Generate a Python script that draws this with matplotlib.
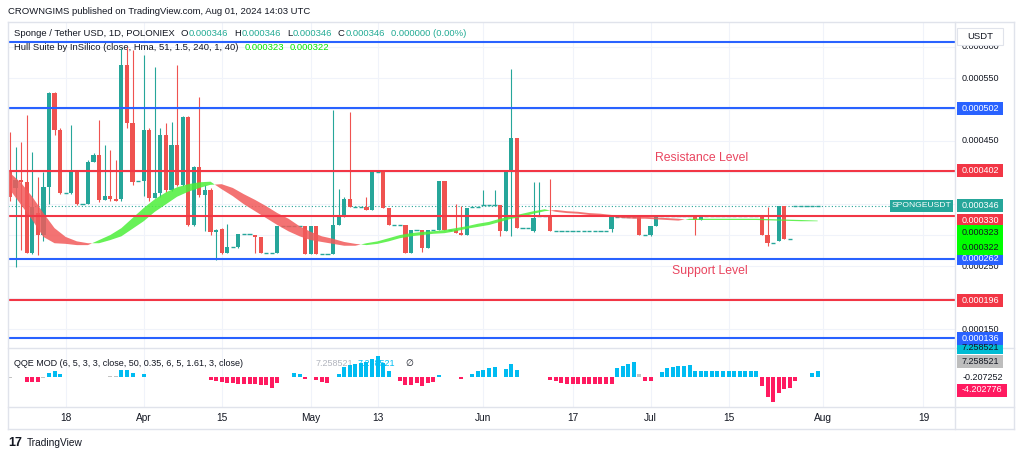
import numpy as np
import matplotlib.pyplot as plt
from matplotlib.patches import Rectangle
from matplotlib.lines import Line2D

plt.rcParams['font.family'] = ['Liberation Sans', 'DejaVu Sans']

# daily candles from 2024-03-08, prices in millionths of a USDT
start = np.datetime64('2024-03-08')
opens = [
    400, 375, 388, 384, 271, 335, 300, 376, 526, 467,
    367, 367, 400, 350, 350, 417, 428, 356, 362, 358,
    357, 571, 478, 386, 386, 468, 359, 367, 459, 371,
    443, 380, 488, 316, 408, 364, 372, 305, 310, 271,
    281, 281, 302, 302, 300, 297, 271, 271, 271, 315,
    315, 315, 315, 315, 270, 315, 270, 270, 270, 316,
    329, 358, 345, 345, 345, 340, 400, 400, 343, 316,
    316, 316, 271, 308, 308, 279, 308, 308, 386, 308,
    308, 303, 300, 345, 345, 348, 348, 348, 348, 306,
    400, 454, 311, 311, 307, 330, 330, 330, 307, 307,
    307, 307, 307, 307, 307, 307, 307, 307, 310, 329,
    329, 329, 329, 329, 300, 300, 315, 331, 331, 331,
    331, 331, 331, 331, 324, 331, 331, 331, 331, 331,
    331, 331, 331, 331, 331, 331, 300, 288, 290, 346,
    293, 346, 346, 346, 346, 346,
]
highs = [
    464, 440, 448, 491, 432, 392, 400, 528, 528, 470,
    367, 475, 400, 350, 420, 430, 483, 443, 435, 420,
    598, 600, 595, 386, 587, 470, 568, 470, 478, 480,
    571, 490, 490, 410, 520, 380, 375, 310, 312, 318,
    281, 302, 302, 302, 300, 297, 271, 271, 315, 315,
    315, 315, 315, 315, 315, 315, 270, 270, 499, 373,
    360, 496, 345, 345, 361, 402, 400, 400, 343, 316,
    316, 316, 308, 308, 308, 308, 308, 386, 386, 308,
    349, 346, 343, 345, 345, 372, 348, 372, 348, 400,
    564, 454, 311, 311, 384, 384, 330, 389, 307, 307,
    307, 307, 307, 307, 307, 307, 307, 307, 329, 329,
    329, 329, 329, 329, 300, 315, 331, 331, 331, 331,
    331, 331, 331, 331, 331, 331, 331, 331, 331, 331,
    331, 331, 331, 331, 331, 331, 345, 288, 346, 346,
    293, 346, 346, 346, 346, 346,
]
lows = [
    355, 249, 276, 271, 270, 268, 290, 350, 460, 365,
    367, 365, 348, 350, 350, 417, 352, 356, 355, 354,
    355, 470, 380, 386, 362, 355, 359, 360, 368, 370,
    378, 378, 314, 314, 360, 306, 300, 260, 270, 271,
    281, 280, 302, 302, 272, 271, 271, 271, 271, 315,
    315, 315, 315, 270, 270, 270, 270, 270, 270, 316,
    329, 345, 345, 345, 340, 340, 400, 343, 316, 316,
    316, 271, 271, 308, 273, 279, 308, 308, 308, 308,
    303, 300, 300, 345, 345, 348, 348, 348, 298, 306,
    298, 311, 311, 311, 305, 330, 330, 307, 307, 307,
    307, 307, 307, 307, 307, 307, 307, 307, 305, 329,
    329, 329, 329, 300, 300, 298, 315, 331, 331, 331,
    331, 331, 331, 300, 324, 331, 331, 331, 331, 331,
    331, 331, 331, 331, 331, 300, 283, 288, 290, 293,
    293, 346, 346, 346, 346, 346,
]
closes = [
    361, 388, 384, 271, 345, 300, 376, 526, 467, 367,
    367, 400, 350, 350, 417, 428, 356, 362, 357, 355,
    571, 478, 384, 386, 468, 359, 367, 459, 371, 443,
    380, 488, 316, 408, 364, 372, 305, 308, 271, 281,
    281, 302, 302, 302, 297, 271, 271, 271, 315, 315,
    315, 315, 315, 270, 315, 270, 270, 270, 316, 329,
    358, 345, 345, 345, 340, 400, 400, 343, 316, 316,
    316, 271, 308, 308, 279, 308, 308, 386, 308, 308,
    303, 300, 343, 345, 345, 348, 348, 348, 306, 400,
    454, 311, 311, 311, 327, 330, 330, 307, 307, 307,
    307, 307, 307, 307, 307, 307, 307, 307, 329, 329,
    329, 329, 329, 300, 300, 315, 331, 331, 331, 331,
    331, 331, 331, 324, 331, 331, 331, 331, 331, 331,
    331, 331, 331, 331, 331, 300, 288, 288, 346, 293,
    293, 346, 346, 346, 346, 346,
]

# Hull Suite ribbon read every other day (fast = MHULL, slow = SHULL)
hull_days = [0, 2, 4, 6, 8, 10, 12, 14, 16, 18, 20, 22, 24, 26, 28, 30, 32, 34, 36,
             38, 40, 42, 44, 46, 48, 50, 52, 54, 56, 58, 60, 62,
             64, 66, 68, 70, 72, 74, 76, 78, 80, 82, 84, 86, 88, 90, 92, 94, 96,
             98, 100, 102, 104, 106, 108, 110, 112, 114, 116, 118, 120,
             122, 126, 130, 134, 138, 142, 145]
hull_fast = [372, 348, 324, 297, 287, 286, 284, 284, 292, 300, 311, 327, 343, 357, 368, 376, 381, 384, 385,
             373, 362, 349, 338, 327, 316, 306, 298, 292, 289, 286, 283, 283,
             287, 290, 295, 300, 303, 305, 306, 308, 311, 314, 318, 321, 326, 330, 334, 338, 341,
             337, 335, 334, 332, 330, 329, 327, 326, 326, 325, 324, 323,
             326, 326, 326, 326, 325, 324, 323]
hull_slow = [399, 383, 361, 335, 311, 297, 290, 287, 287, 292, 298, 310, 322, 337, 349, 361, 369, 375, 380,
             381, 375, 365, 356, 346, 335, 326, 314, 305, 298, 294, 289, 286,
             284, 286, 290, 295, 298, 300, 302, 303, 306, 310, 313, 316, 321, 326, 329, 334, 338,
             340, 338, 337, 335, 334, 332, 330, 330, 329, 328, 327, 326,
             324, 324, 324, 324, 323, 322, 322]

# QQE MOD histogram, one value per day (None = no bar)
qqe_hist = [
    -0.6, None, None, -2.3, -2.3, -2.1, -0.5, 1.7, 2.3, 1.2,
    None, None, None, None, None, None, None, None, 0.4, 0.4,
    2.6, 2.8, 1.4, None, 1.2, None, None, None, None, None,
    None, None, None, None, None, None, -1.5, -2.0, -2.4, -2.6,
    -2.6, -3.0, -3.1, -3.1, -3.2, -3.4, -3.6, -4.8, -2.6, None,
    None, 1.5, 1.3, -0.8, None, -1.2, -2.4, -2.5, None, 1.3,
    4.2, 4.8, 5.2, 5.6, 5.9, 7.3, 8.7, 5.8, 2.4, None,
    -1.7, -3.4, -3.4, -2.8, -3.9, -2.8, -2.1, 0.6, None, None,
    None, -1.1, None, 1.0, 2.2, 2.8, 3.5, 3.9, None, 3.2,
    5.3, 2.8, None, None, None, None, None, -1.4, -2.0, -2.6,
    -2.9, -3.0, -3.0, -3.0, -3.0, -3.1, -3.1, -3.1, -3.1, 3.5,
    4.6, 5.3, 6.2, 1.0, -1.6, -1.6, None, 2.1, 3.5, 4.1,
    4.6, 4.6, 4.8, 2.4, 2.4, 2.4, 2.4, 2.4, 2.4, 2.4,
    2.4, 2.4, 2.4, 2.4, 2.4, -3.9, -8.3, -10.6, -6.9, -5.3,
    -4.8, -1.7, None, None, 1.4, 2.5,
]
qqe_gray = [0, 6, 18, 19, 113]

blue_levels = [607, 502, 262, 136]
red_levels = [402, 330, 196]
last_price = 346
hull_last = [323, 322]
# price-scale ticks that are not hidden under a label box
scale_ticks = [600, 550, 450, 250, 150]

tick_dates = ['2024-03-18', '2024-04-01', '2024-04-15', '2024-05-01', '2024-05-13', '2024-06-01',
              '2024-06-17', '2024-07-01', '2024-07-15', '2024-08-01', '2024-08-19']
tick_labels = ['18', 'Apr', '15', 'May', '13', 'Jun', '17', 'Jul', '15', 'Aug', '19']

TEAL = '#26a69a'
RED = '#ef5350'
BLUE = '#2962ff'
LRED = '#f23645'
INK = '#131722'
GRID = '#f0f3fa'
W, H = 1024, 458


def fx(px):
    return px / W


def fy(py):
    return 1 - py / H


fig = plt.figure(figsize=(W / 100, H / 100), dpi=100)
fig.patch.set_facecolor('white')
ax = fig.add_axes([fx(8), fy(348), 947 / W, 326 / H])
qa = fig.add_axes([fx(8), fy(407), 947 / W, 59 / H], sharex=ax)
ax.set_xlim(-0.36, 169.66)
ax.set_ylim(120.2, 639.2)
qa.set_ylim(-12.6, 11.9)

# candles
o, h, l, c = (np.array(a, float) for a in (opens, highs, lows, closes))
days = np.arange(len(c))
prev = np.r_[c[0], c[:-1]]
rising = (c > o) | ((c == o) & (c >= prev))
cols = np.where(rising, TEAL, RED)
flat = c == o
ax.vlines(days, l, h, colors=cols, lw=0.8, zorder=3)
ax.bar(days[~flat], (c - o)[~flat], bottom=o[~flat], width=0.75, color=cols[~flat], lw=0, zorder=3)
ax.hlines(c[flat], days[flat] - 0.38, days[flat] + 0.38, colors=cols[flat], lw=1, zorder=3)

# hull ribbon
hd = np.array(hull_days, float)
hf = np.array(hull_fast, float)
hs = np.array(hull_slow, float)
ax.fill_between(hd, hf, hs, where=hf >= hs, interpolate=True, color='#4cef3a', alpha=0.85, lw=0, zorder=4)
ax.fill_between(hd, hf, hs, where=hf <= hs, interpolate=True, color='#f25a5a', alpha=0.85, lw=0, zorder=4)

# levels
for v in blue_levels:
    ax.axhline(v, color=BLUE, lw=1.5, zorder=5)
for v in red_levels:
    ax.axhline(v, color=LRED, lw=1.5, zorder=5)
ax.axhline(last_price, color=TEAL, lw=0.8, ls=(0, (1, 2)), zorder=2)

# qqe histogram
qv = np.array([np.nan if v is None else v for v in qqe_hist], float)
qcols = np.where(qv >= 0, '#00bcf2', '#ff1a60').astype(object)
qcols[qqe_gray] = '#c3c3c3'
ok = ~np.isnan(qv)
qa.bar(days[ok], qv[ok], width=0.72, color=list(qcols[ok]), lw=0, zorder=3)

# axes cosmetics
tick_pos = [int((np.datetime64(d) - start).astype(int)) for d in tick_dates]
for a in (ax, qa):
    for s in a.spines.values():
        s.set_visible(False)
    a.set_axisbelow(True)
ax.set_xticks(tick_pos)
ax.set_yticks(range(150, 601, 50))
ax.set_yticklabels([])
ax.grid(color=GRID, lw=0.8)
ax.tick_params(length=0, labelbottom=False)
qa.set_yticks([])
qa.grid(axis='x', color=GRID, lw=0.8)
qa.set_xticklabels(tick_labels)
qa.tick_params(axis='x', length=0, pad=4.5, labelsize=7.3, labelcolor=INK)


def ypix(v, a=ax):
    return H - a.transData.transform((0, v))[1]


# frame lines
FRAME = '#e0e3eb'
for y in (22, 348, 407, 429):
    fig.add_artist(Line2D([fx(8), fx(1014)], [fy(y), fy(y)], color=FRAME, lw=1))
for x in (8, 955, 1014):
    fig.add_artist(Line2D([fx(x), fx(x)], [fy(22), fy(429)], color=FRAME, lw=1))

# price scale
for v in scale_ticks:
    fig.text(fx(962), fy(ypix(v)), f'{v / 1e6:.6f}', fontsize=6.5, color=INK, va='center', zorder=3)


def box_label(yp, txt, fc, tc, w=46, x0=957):
    fig.add_artist(Rectangle((fx(x0), fy(yp + 6.5)), w / W, 13 / H, transform=fig.transFigure,
                             fc=fc, ec='none', zorder=4))
    fig.text(fx(x0 + w / 2), fy(yp), txt, ha='center', va='center', color=tc, fontsize=6.5, zorder=5)


fig.add_artist(Rectangle((fx(957), fy(45)), 46 / W, 17 / H, transform=fig.transFigure,
                         fc='white', ec=FRAME, lw=0.8, zorder=4))
fig.text(fx(980), fy(36.5), 'USDT', ha='center', va='center', fontsize=6.8, color=INK, zorder=5)

for v in [502, 262]:
    box_label(ypix(v), f'{v / 1e6:.6f}', BLUE, 'white')
for v in red_levels:
    shift = 4 if v == 330 else 0
    box_label(ypix(v) + shift, f'{v / 1e6:.6f}', LRED, 'white')
box_label(ypix(last_price) - 1, f'{last_price / 1e6:.6f}', TEAL, 'white')
fig.add_artist(Rectangle((fx(890), fy(ypix(last_price) + 5.5)), 63 / W, 12 / H, transform=fig.transFigure,
                         fc=TEAL, ec='none', zorder=4))
fig.text(fx(921.5), fy(ypix(last_price) - 1), 'SPONGEUSDT', ha='center', va='center', color='white',
         fontsize=6.1, zorder=5)
g_top, g_bot = 232.3, 247.7
fig.add_artist(Rectangle((fx(957), fy(g_bot + 7)), 46 / W, (g_bot - g_top + 14) / H,
                         transform=fig.transFigure, fc='#00ff00', ec='none', zorder=4))
for yy, v in zip((g_top, g_bot), hull_last):
    fig.text(fx(980), fy(yy), f'{v / 1e6:.6f}', ha='center', va='center', color=INK, fontsize=6.5, zorder=5)

# qqe scale labels
box_label(347, '7.258521', '#00bcd4', INK)
box_label(361.5, '7.258521', '#bdbdbd', INK)
box_label(ypix(136), f'{136 / 1e6:.6f}', BLUE, 'white')
fig.text(fx(1003), fy(377), '-0.207252', ha='right', va='center', fontsize=6.5, color=INK, zorder=5)
box_label(390, '-4.202776', '#ff1a60', 'white', w=50)

# header and legends
fig.text(fx(8), fy(11), 'CROWNGIMS published on TradingView.com, Aug 01, 2024 14:03 UTC',
         fontsize=6.8, color=INK, va='center')


def chain(a, x, y, parts, size=6.8):
    t = a.text(fx(x), fy(y), parts[0][0], transform=fig.transFigure, color=parts[0][1],
               fontsize=size, va='center', clip_on=False, zorder=1)
    for s, col, gap in parts[1:]:
        t = a.annotate(s, xy=(1, 0.5), xycoords=t, xytext=(gap * 0.72, 0), textcoords='offset points',
                       va='center', ha='left', color=col, fontsize=size, zorder=1)
    return t


VAL = '#22ab94'
chain(ax, 14, 33, [('Sponge / Tether USD, 1D, POLONIEX', INK, 0),
                   ('O', INK, 6), ('0.000346', VAL, 0.5),
                   ('H', INK, 6), ('0.000346', VAL, 0.5),
                   ('L', INK, 6), ('0.000346', VAL, 0.5),
                   ('C', INK, 6), ('0.000346', VAL, 0.5),
                   ('0.000000 (0.00%)', VAL, 6)])
chain(ax, 14, 47, [('Hull Suite by InSilico (close, Hma, 51, 1.5, 240, 1, 40)', INK, 0),
                   ('0.000323', '#00e600', 6), ('0.000322', '#00e600', 6)])
chain(qa, 14, 363, [('QQE MOD (6, 5, 3, 3, close, 50, 0.35, 6, 5, 1.61, 3, close)', INK, 0)], size=6.5)
chain(qa, 316, 363, [('7.258521', '#b2b5be', 0), ('7.258521', '#00bcf2', 4), ('\u2205', INK, 10)], size=6.5)

fig.text(fx(702), fy(158), 'Resistance Level', ha='center', va='center', fontsize=8.8, color='#e9455f')
fig.text(fx(710), fy(271), 'Support Level', ha='center', va='center', fontsize=8.8, color='#e9455f')

fig.text(fx(8), fy(443), '17', fontsize=9, fontweight='bold', color=INK, va='center')
fig.text(fx(27), fy(443), 'TradingView', fontsize=7.3, color=INK, va='center')

fig.savefig('out.png', dpi=100, facecolor='white')
